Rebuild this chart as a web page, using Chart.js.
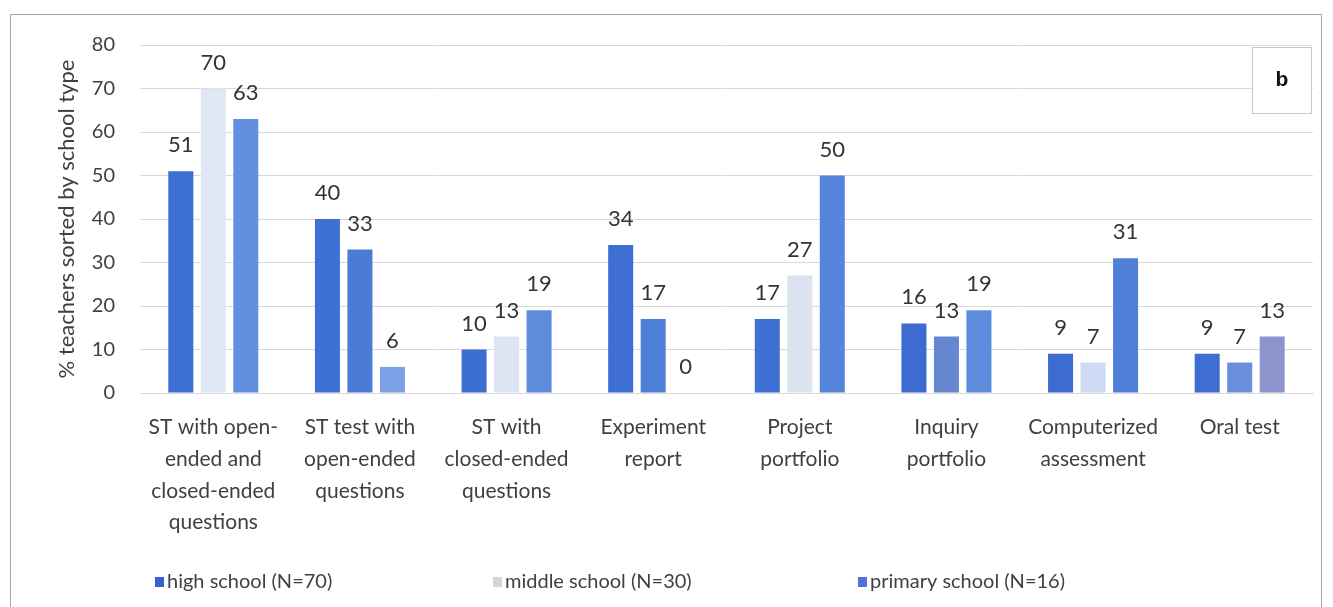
<!DOCTYPE html>
<html>
<head>
<meta charset="utf-8">
<style>
  html, body { margin: 0; padding: 0; background: #fff; }
  #wrap { width: 1333px; height: 607px; position: relative; }
</style>
<script src="https://cdn.jsdelivr.net/npm/chart.js@4.4.1/dist/chart.umd.min.js"></script>
</head>
<body>
<div id="wrap"><canvas id="chart" width="1333" height="607"></canvas></div>
<script>
// School assessment chart (panel b)
const categories = [
    ['ST with open-', 'ended and', 'closed-ended', 'questions'],
    ['ST test with', 'open-ended', 'questions'],
    ['ST with', 'closed-ended', 'questions'],
    ['Experiment', 'report'],
    ['Project', 'portfolio'],
    ['Inquiry', 'portfolio'],
    ['Computerized', 'assessment'],
    ['Oral test']
];
const highSchool = [51, 40, 10, 34, 17, 16, 9, 9];
const middleSchool = [70, 33, 13, 17, 27, 13, 7, 7];
const primarySchool = [63, 6, 19, 0, 50, 19, 31, 13];
const yTicks = [0, 10, 20, 30, 40, 50, 60, 70, 80];

const FONT = 'Lato, "Open Sans", "Liberation Sans", sans-serif';
const TEXT = '#404040';

// bar colours (the scanned figure shifts shade bar to bar)
const highColors = ['#3d6fd2', '#3f70d3', '#3c6dd0', '#3d6ed2', '#3e6fd2', '#3d6bcf', '#3d6dd0', '#3e6ed1'];
const middleColors = ['#dfe7f5', '#4a7cd6', '#dde4f3', '#4f80d7', '#dbe3f1', '#6688d2', '#cddbf4', '#6b8edb'];
const primaryColors = ['#628fe0', '#7c9fe6', '#5e8cdc', '#5e8cdc', '#5686dc', '#5f8cdc', '#4f80d8', '#8d93cc'];
const legendColors = ['#3a5fcf', '#d3d6df', '#5a6ed8'];

const valueLabels = {
    id: 'valueLabels',
    afterDatasetsDraw(chart) {
        const ctx = chart.ctx;
        ctx.save();
        ctx.font = '22px ' + FONT;
        ctx.fillStyle = '#333';
        ctx.textAlign = 'center';
        ctx.textBaseline = 'middle';
        chart.data.datasets.forEach((ds, i) => {
            chart.getDatasetMeta(i).data.forEach((bar, j) => {
                ctx.fillText(ds.data[j], bar.x, bar.y - 26);
            });
        });
        ctx.restore();
    }
};

const frame = {
    id: 'frame',
    beforeDraw(chart) {
        const ctx = chart.ctx;
        ctx.save();
        ctx.fillStyle = '#fff';
        ctx.fillRect(0, 0, chart.width, chart.height);
        ctx.strokeStyle = '#a6a6a6';
        ctx.lineWidth = 1;
        ctx.strokeRect(10.5, 14.5, 1311, 640);
        ctx.restore();
    },
    afterDraw(chart) {
        const ctx = chart.ctx;
        ctx.save();
        // panel letter box
        ctx.fillStyle = '#fff';
        ctx.fillRect(1252, 47, 59, 66);
        ctx.strokeStyle = '#c8c8c8';
        ctx.strokeRect(1252.5, 47.5, 59, 66);
        ctx.fillStyle = '#111';
        ctx.font = 'bold 21px "Liberation Sans", Arial, sans-serif';
        ctx.textAlign = 'center';
        ctx.textBaseline = 'middle';
        ctx.fillText('b', 1282, 80);

        // legend
        const legendX = [155, 493, 858];
        ctx.font = '20px ' + FONT;
        ctx.textAlign = 'left';
        chart.data.datasets.forEach((ds, i) => {
            ctx.fillStyle = legendColors[i];
            ctx.fillRect(legendX[i], 577, 9, 10);
            ctx.fillStyle = TEXT;
            ctx.fillText(ds.label, legendX[i] + 12, 582);
        });
        ctx.restore();
    }
};

new Chart(document.getElementById('chart'), {
    type: 'bar',
    data: {
        labels: categories,
        datasets: [
            { label: 'high school (N=70)', data: highSchool, backgroundColor: highColors },
            { label: 'middle school (N=30)', data: middleSchool, backgroundColor: middleColors },
            { label: 'primary school (N=16)', data: primarySchool, backgroundColor: primaryColors }
        ]
    },
    options: {
        responsive: false,
        animation: false,
        devicePixelRatio: 1,
        categoryPercentage: 0.665,
        barPercentage: 0.77,
        layout: { padding: { left: 54, right: 20, top: 45, bottom: 44 } },
        plugins: {
            legend: { display: false },
            tooltip: { enabled: false }
        },
        scales: {
            x: {
                grid: { display: false, drawTicks: false },
                border: { color: '#d9d9d9' },
                ticks: {
                    color: TEXT,
                    font: { family: FONT, size: 21, lineHeight: 1.52 },
                    padding: 18,
                    maxRotation: 0,
                    autoSkip: false
                },
                afterFit(scale) { scale.height = 170; }
            },
            y: {
                min: 0,
                max: 80,
                afterBuildTicks(scale) { scale.ticks = yTicks.map(v => ({ value: v })); },
                grid: { color: '#d9d9d9', drawTicks: false },
                border: { display: false },
                ticks: {
                    color: TEXT,
                    font: { family: FONT, size: 20 },
                    padding: 25
                },
                title: {
                    display: true,
                    text: '% teachers sorted by school type',
                    color: TEXT,
                    font: { family: FONT, size: 22 },
                    padding: { top: 0, bottom: 0 }
                },
                afterFit(scale) { scale.width = 86; }
            }
        }
    },
    plugins: [frame, valueLabels]
});
</script>
</body>
</html>
